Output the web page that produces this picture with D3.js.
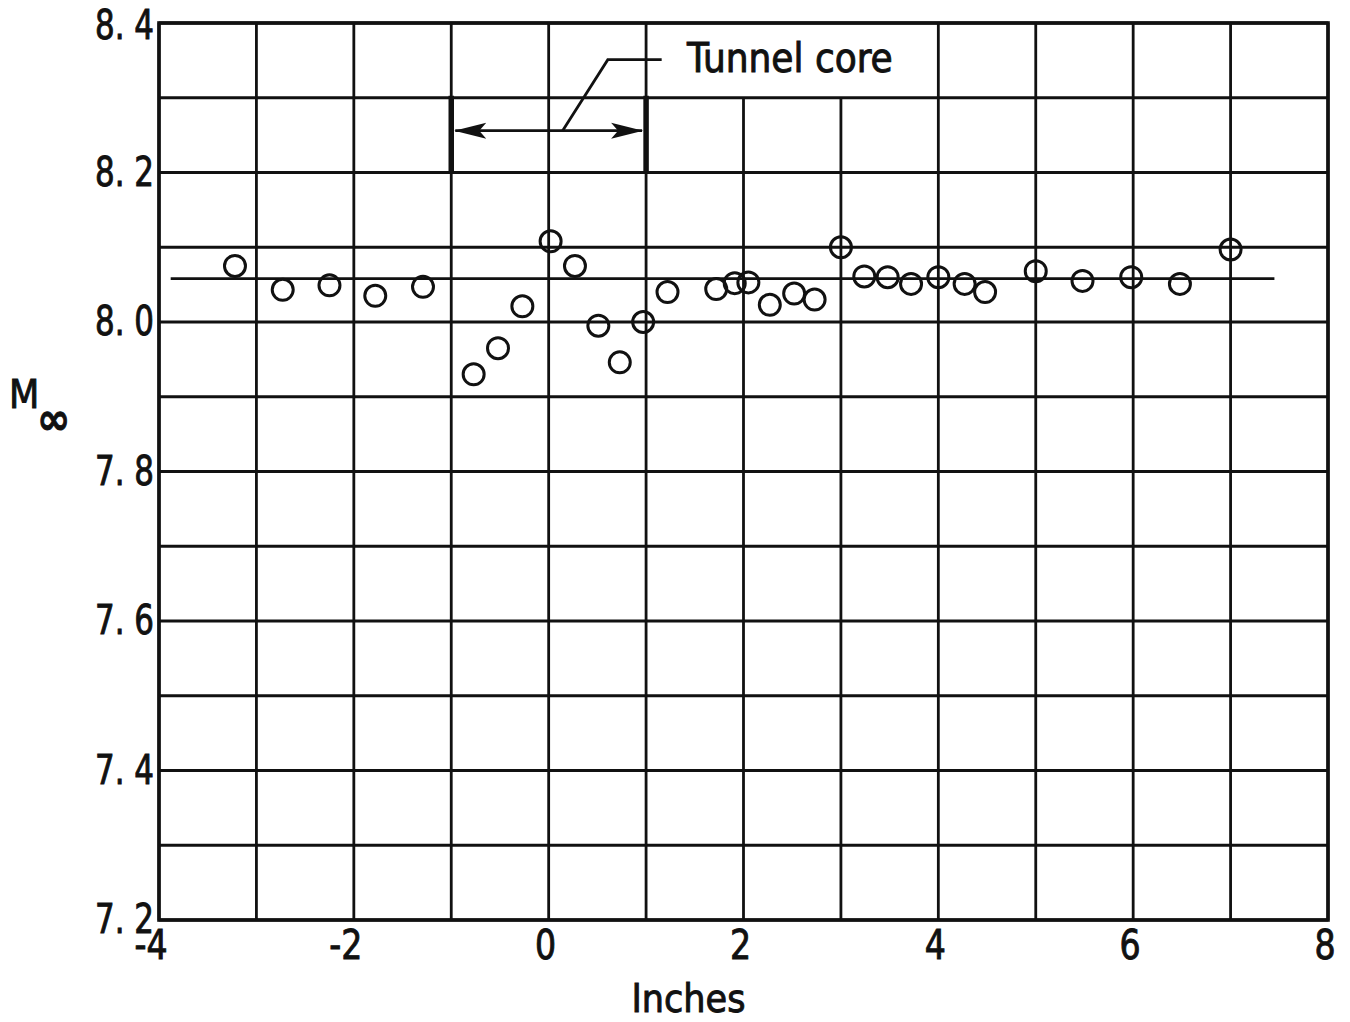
<!DOCTYPE html>
<html>
<head>
<meta charset="utf-8">
<script src="https://cdn.jsdelivr.net/npm/d3@7"></script>
<style>
  html, body { margin: 0; padding: 0; background: #fff; }
  svg { display: block; }
  text { font-family: "DejaVu Sans Condensed", "DejaVu Sans", "Liberation Sans", sans-serif; font-stretch: condensed; fill: #111; stroke: #111; stroke-width: 0.9px; }
</style>
</head>
<body>
<script>
// Free-stream Mach number surveyed across the test section
const stationIn = [-3.22, -2.73, -2.25, -1.78, -1.29, -0.77, -0.52, -0.27, 0.02, 0.27,
                   0.51, 0.73, 0.97, 1.22, 1.72, 1.91, 2.05, 2.27, 2.52, 2.73,
                   3.00, 3.24, 3.48, 3.72, 4.00, 4.27, 4.48, 5.00, 5.48, 5.98,
                   6.48, 7.00];
const machValues = [8.075, 8.043, 8.049, 8.035, 8.047, 7.930, 7.965, 8.021, 8.108, 8.075,
                    7.995, 7.946, 8.000, 8.040, 8.044, 8.052, 8.053, 8.023, 8.038, 8.030,
                    8.100, 8.061, 8.060, 8.051, 8.060, 8.051, 8.040, 8.068, 8.055, 8.060,
                    8.051, 8.097];

// Faired mean level and its extent
const meanMach = 8.058;
const meanRange = [-3.88, 7.45];

// Axis ticks
const xTickLabels = [-4, -2, 0, 2, 4, 6, 8];
const yTickLabels = [8.4, 8.2, 8.0, 7.8, 7.6, 7.4, 7.2];
const xGrid = d3.range(-4, 8.001, 1);
const yGrid = d3.range(72, 84.001, 1).map(v => v / 10);

// Tunnel-core annotation
const coreSpan = [-1, 1];
const coreBracket = [8.2, 8.3];
const coreArrowLevel = 8.256;
const coreLeader = [[0.143, 8.256], [0.607, 8.351], [1.16, 8.351]];
const coreLabel = { text: "Tunnel core", x: 1.42, y: 8.335 };
const labelBox = [2, 3]; // gridlines stopped short under the label

const W = 1350, H = 1022;
const margin = { left: 159, right: 22, top: 23, bottom: 102 };

const svg = d3.select("body").append("svg").attr("width", W).attr("height", H);

const x = d3.scaleLinear().domain([-4, 8]).range([margin.left, W - margin.right]);
const y = d3.scaleLinear().domain([7.2, 8.4]).range([H - margin.bottom, margin.top]);

const ink = "#111";

// Grid
const grid = svg.append("g").attr("stroke", ink).attr("stroke-width", 2.8).attr("fill", "none");
grid.selectAll("line.h").data(yGrid).join("line")
  .attr("class", "h")
  .attr("x1", x(-4)).attr("x2", x(8))
  .attr("y1", d => y(d)).attr("y2", d => y(d));
grid.selectAll("line.v").data(xGrid).join("line")
  .attr("class", "v")
  .attr("x1", d => x(d)).attr("x2", d => x(d))
  .attr("y1", y(7.2))
  .attr("y2", d => (d >= labelBox[0] && d <= labelBox[1]) ? y(8.3) : y(8.4));

// Frame
svg.append("rect")
  .attr("x", x(-4)).attr("y", y(8.4))
  .attr("width", x(8) - x(-4)).attr("height", y(7.2) - y(8.4))
  .attr("fill", "none").attr("stroke", ink).attr("stroke-width", 3.6);

// Y tick labels (lettering is narrow, so squeeze horizontally); keep the top one on the page
svg.append("g").selectAll("text").data(yTickLabels).join("text")
  .attr("transform", d => `translate(${x(-4) - 5},${Math.max(y(d) + 13, 39)}) scale(0.86,1)`)
  .attr("text-anchor", "end")
  .attr("font-size", 40)
  .text(d => d3.format(".1f")(d).replace(".", ". "));

// X tick labels
svg.append("g").selectAll("text").data(xTickLabels).join("text")
  .attr("transform", d => `translate(${x(d) + (d < 0 ? -8 : -3)},${H - margin.bottom + 39}) scale(0.9,1)`)
  .attr("text-anchor", "middle")
  .attr("font-size", 41)
  .text(d => d < 0 ? "-" + Math.abs(d) : String(d));

// Axis titles
svg.append("text")
  .attr("x", (x(-4) + x(8)) / 2 - 55)
  .attr("y", 1012)
  .attr("text-anchor", "middle")
  .attr("font-size", 39)
  .text("Inches");

svg.append("text")
  .attr("x", 9).attr("y", 408)
  .attr("font-size", 39)
  .text("M");
svg.append("text")
  .attr("x", 37).attr("y", 434)
  .attr("font-size", 44)
  .attr("font-family", "DejaVu Sans")
  .attr("font-weight", "bold")
  .text("∞");

// Faired mean line
svg.append("line")
  .attr("x1", x(meanRange[0])).attr("x2", x(meanRange[1]))
  .attr("y1", y(meanMach)).attr("y2", y(meanMach))
  .attr("stroke", ink).attr("stroke-width", 2.8);

// Data points
const pts = stationIn.map((d, i) => ({ x: d, m: machValues[i] }));
svg.append("g").selectAll("circle").data(pts).join("circle")
  .attr("cx", d => x(d.x)).attr("cy", d => y(d.m))
  .attr("r", 10.5)
  .attr("fill", "none")
  .attr("stroke", ink).attr("stroke-width", 3);

// Tunnel core bracket, arrows and leader
const core = svg.append("g").attr("stroke", ink).attr("fill", "none");
coreSpan.forEach(s => {
  core.append("line")
    .attr("x1", x(s)).attr("x2", x(s))
    .attr("y1", y(coreBracket[0])).attr("y2", y(coreBracket[1]) - 2)
    .attr("stroke-width", 5.5);
});
core.append("line")
  .attr("x1", x(coreSpan[0]) + 4).attr("x2", x(coreSpan[1]) - 4)
  .attr("y1", y(coreArrowLevel)).attr("y2", y(coreArrowLevel))
  .attr("stroke-width", 2.8);

const ay = y(coreArrowLevel);
const headLen = 32, headHalf = 8;
const lx = x(coreSpan[0]) + 3, rx = x(coreSpan[1]) - 3;
svg.append("path")
  .attr("d", `M${lx},${ay} L${lx + headLen},${ay - headHalf} L${lx + headLen - 7},${ay} L${lx + headLen},${ay + headHalf} Z`)
  .attr("fill", ink);
svg.append("path")
  .attr("d", `M${rx},${ay} L${rx - headLen},${ay - headHalf} L${rx - headLen + 7},${ay} L${rx - headLen},${ay + headHalf} Z`)
  .attr("fill", ink);

core.append("path")
  .attr("d", d3.line().x(d => x(d[0])).y(d => y(d[1]))(coreLeader))
  .attr("stroke-width", 2.8);

svg.append("text")
  .attr("x", x(coreLabel.x)).attr("y", y(coreLabel.y))
  .attr("font-size", 40)
  .text(coreLabel.text);
</script>
</body>
</html>
